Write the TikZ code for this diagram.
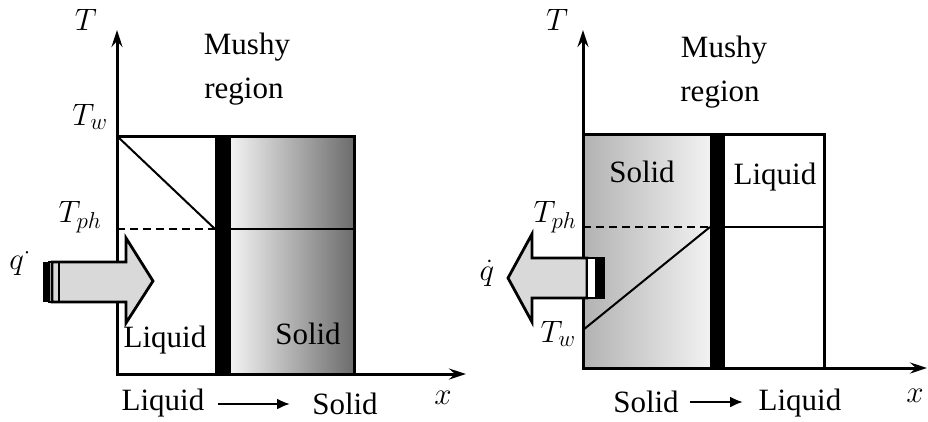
\RequirePackage{fix-cm}
\documentclass[tikz,border=0pt]{standalone}
\usepackage{fontspec}
\setmainfont{Liberation Serif}
\usepackage{tikz}
\usetikzlibrary{arrows.meta}
\usepackage{xcolor}
\definecolor{arrgray}{HTML}{D9D9D9}
\definecolor{solidlight}{HTML}{F2F2F2}
\definecolor{soliddark}{HTML}{6C6C6C}
\definecolor{solidmid}{HTML}{B2B2B2}
\DeclareMathSizes{31}{31}{23}{16}

\begin{document}
\begin{tikzpicture}[x=1pt, y=-1pt, >=Stealth,
  every node/.style={font=\fontsize{31}{36}\selectfont, inner sep=0pt},
  axis/.style={line width=3pt, -{Stealth[length=17pt,width=11pt,inset=6pt]}},
  boxline/.style={line width=3pt},
  profile/.style={line width=2pt},
  flow/.style={line width=2.2pt, -{Latex[length=13pt,width=11pt]}},
  heat/.style={line width=2.8pt, fill=arrgray, line join=miter}]

\useasboundingbox (0,0) rectangle (928,421);

% Left picture: melting, wall at T_w heats the liquid side.
\coordinate (O1)  at (117,374);
\coordinate (Ty1) at (117, 30);
\coordinate (Tx1) at (466,374);
\coordinate (W1)  at (117,136);
\coordinate (B1a) at (215,136);
\coordinate (B1b) at (231,374);
\coordinate (P1)  at (215,229);
\coordinate (P1r) at (231,229);
\coordinate (E1)  at (354,229);
\coordinate (C1)  at (354,136);

% --- solid part, dark towards the right ---
\shade[left color=solidlight, right color=soliddark] (231,136) rectangle (354,374);

% --- temperature profile ---
\draw[profile] (W1) -- (P1);
\draw[profile, dash pattern=on 8pt off 5pt] (117,229) -- (P1);
\draw[profile] (P1r) -- (E1);

% --- box and mushy band ---
\draw[boxline] (O1) rectangle (C1);
\fill[black] (B1a) rectangle (B1b);

% --- axes ---
\draw[axis] (O1) -- (Ty1);
\draw[axis] (O1) -- (Tx1);

% --- heat in ---
\fill[black] (43,262) rectangle (49,302);
\draw[line width=1.4pt, fill=white] (49,262) rectangle (52,302);
\draw[heat] (52,262) -- (126,262) -- (126,238) -- (153,281) -- (126,323)
  -- (126,302) -- (52,302) -- cycle;
\draw[line width=2.4pt] (59,262) -- (59,302);

% --- labels ---
\node (T1)    at (86,20)   {$T$};
\node (Tw1)   at (90,117)  {$T_{w}$};
\node (Tph1)  at (80,217)  {$T_{ph}$};
\node (q1)    at (20,262)  {$q^{\cdot}$};
\node (mush1) at (247,47)  {Mushy};
\node (reg1)  at (244,92)  {region};
\node (liq1)  at (165,340) {Liquid};
\node (sol1)  at (308,334) {Solid};
\node (x1)    at (443,398) {$x$};
\node (from1) at (163,403) {Liquid};
\node (to1)   at (345,404) {Solid};
\coordinate (f1a) at (218,404);
\coordinate (f1b) at (290,404);
\draw[flow] (f1a) -- (f1b);

% Right picture: solidification, wall at T_w cools the solid side.
\coordinate (O2)  at (583,368);
\coordinate (Ty2) at (583, 30);
\coordinate (Tx2) at (927,368);
\coordinate (W2)  at (583,330);
\coordinate (B2a) at (710,134);
\coordinate (B2b) at (725,368);
\coordinate (P2)  at (710,227);
\coordinate (P2r) at (725,227);
\coordinate (E2)  at (824,227);
\coordinate (C2)  at (824,134);

% --- solid part, dark towards the wall ---
\shade[left color=solidmid, right color=solidlight] (583,134) rectangle (710,368);

% --- temperature profile ---
\draw[profile] (W2) -- (P2);
\draw[profile, dash pattern=on 8pt off 5pt] (583,227) -- (P2);
\draw[profile] (P2r) -- (E2);

% --- box and mushy band ---
\draw[boxline] (O2) rectangle (C2);
\fill[black] (B2a) rectangle (B2b);

% --- axes ---
\draw[axis] (O2) -- (Ty2);
\draw[axis] (O2) -- (Tx2);

% --- heat out ---
\draw[heat] (587,258) -- (532,258) -- (532,234) -- (508,278) -- (532,322)
  -- (532,298) -- (587,298) -- cycle;
\draw[line width=1.4pt, fill=white] (587,258) rectangle (596,298);
\fill[black] (596,257) rectangle (605,299);

% --- labels ---
\node (T2)    at (557,20)  {$T$};
\node (Tph2)  at (555,217) {$T_{ph}$};
\node (q2)    at (487,273) {$\dot q$};
\node (Tw2)   at (558,334) {$T_{w}$};
\node (mush2) at (724,50)  {Mushy};
\node (reg2)  at (720,95)  {region};
\node (sol2)  at (642,172) {Solid};
\node (liq2)  at (775,177) {Liquid};
\node (x2)    at (915,396) {$x$};
\node (from2) at (646,402) {Solid};
\node (to2)   at (800,403) {Liquid};
\coordinate (f2a) at (690,402);
\coordinate (f2b) at (743,402);
\draw[flow] (f2a) -- (f2b);

\end{tikzpicture}
\end{document}
